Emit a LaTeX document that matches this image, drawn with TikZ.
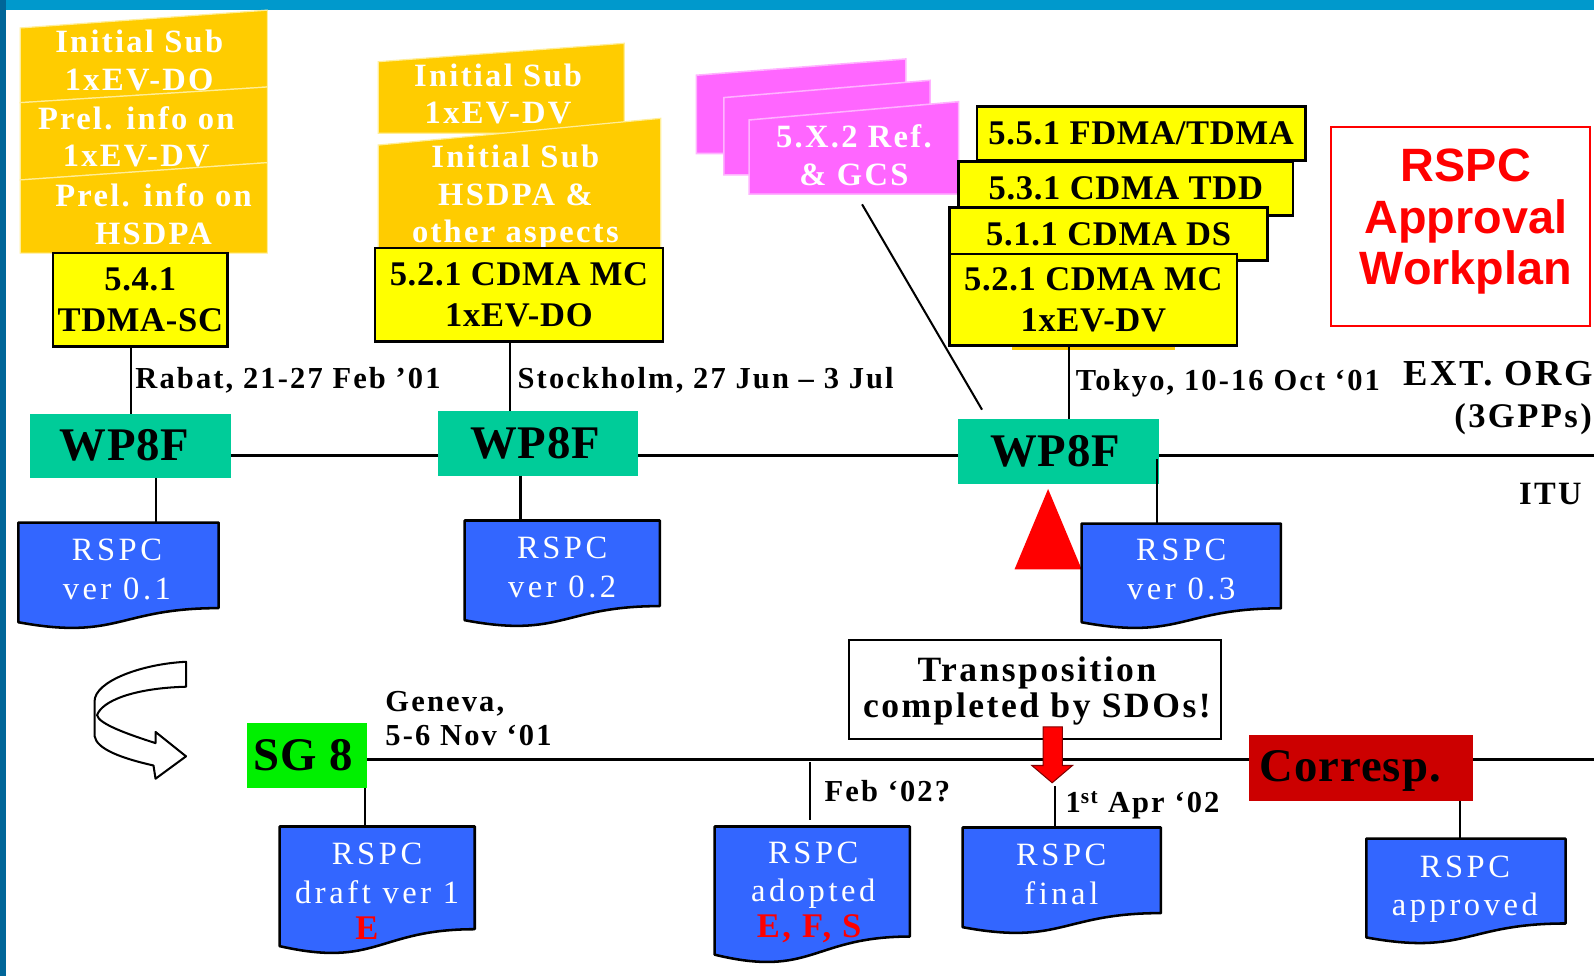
\documentclass[tikz,border=0pt]{standalone}
\usepackage{fontspec}
\setmainfont{Liberation Serif}
\newfontfamily\labf{Liberation Serif}[LetterSpace=7]
\newfontfamily\yelf{Liberation Serif}[LetterSpace=2]
\newfontfamily\rspf{Liberation Serif}[LetterSpace=11]
\newfontfamily\arf{Liberation Sans}
\usetikzlibrary{calc}
\definecolor{topbar}{HTML}{0099CC}
\definecolor{leftbar}{HTML}{006699}
\definecolor{gold}{HTML}{FFCC00}
\definecolor{goldline}{HTML}{FFEE99}
\definecolor{yel}{HTML}{FFFF00}
\definecolor{wpteal}{HTML}{00CC99}
\definecolor{docblue}{HTML}{3366FF}
\definecolor{pinkf}{HTML}{FF66FF}
\definecolor{pinkline}{HTML}{FFB3FF}
\definecolor{sggreen}{HTML}{00F000}
\definecolor{darkred}{HTML}{CC0000}
\tikzset{
 goldbox/.style={fill=gold, draw=goldline, line width=1.2pt},
 pinkbox/.style={fill=pinkf, draw=pinkline, line width=1.5pt},
 goldtext/.style={text=white, font=\labf\bfseries\fontsize{32}{37}\selectfont, align=center, inner sep=0},
 ybox/.style={fill=yel, draw=black, line width=2.5pt, inner sep=0, outer sep=0, align=center, font=\yelf\bfseries\fontsize{34}{40}\selectfont, anchor=north west},
 wpbox/.style={fill=wpteal, inner sep=0, outer sep=0, font=\yelf\bfseries\fontsize{46}{50}\selectfont, anchor=north west},
 docbox/.style={inner sep=0, outer sep=0, anchor=north west},
 docfill/.style={fill=docblue, draw=black, line width=2.5pt, line join=round},
 doctext/.style={text=white, font=\rspf\fontsize{32}{38}\selectfont, align=center, inner sep=0},
 redlet/.style={text=red, font=\labf\bfseries\fontsize{34}{38}\selectfont, inner sep=0},
 lab/.style={font=\labf\bfseries\fontsize{30}{34}\selectfont, inner sep=0, align=left},
 conn/.style={line width=2pt},
 tl/.style={line width=2.5pt},
}
\newcommand\docpath[1]{%
  \path[docfill] (#1.north west) -- (#1.north east) -- ($(#1.north east)!0.802!(#1.south east)$)
    .. controls ($(#1.north)!0.802!(#1.south)$) and ($(#1.north)!1.107!(#1.south)$) ..
    ($(#1.north west)!0.934!(#1.south west)$) -- cycle;}
\begin{document}
\begin{tikzpicture}[x=1pt,y=-1pt]
\useasboundingbox (0,0) rectangle (1568,960);
\fill[white] (0,0) rectangle (1568,960);
\fill[topbar] (0,0) rectangle (1568,10);
\fill[leftbar] (0,0) rectangle (6,960);

\coordinate (tlA) at (0,448);
\coordinate (tlB) at (0,747);
\coordinate (ituend) at (1568,448);
\coordinate (sgend) at (1568,747);

% orange stack 1
\draw[goldbox] (20,27.5) -- (263,10) -- (263,85.6) -- (20,101) -- cycle;
\node[goldtext] (oa) at (137,59.5) {Initial Sub\\1xEV-DO};
\draw[goldbox] (20,101) -- (263,85.6) -- (263,160) -- (20,177) -- cycle;
\node[goldtext] (ob) at (134,134.5) {Prel. info on\\1xEV-DV};
\draw[goldbox] (20,177) -- (263,160) -- (263,249) -- (20,249) -- cycle;
\node[goldtext] (oc) at (151,210.5) {Prel. info on\\HSDPA};
\node[ybox, minimum width=172pt, minimum height=92pt] (b541) at (52,249) {5.4.1\\TDMA-SC};

% orange stack 2
\draw[goldbox] (372,60.7) -- (614,42.6) -- (614,131) -- (372,131) -- cycle;
\node[goldtext] (od) at (490,92.5) {Initial Sub\\1xEV-DV};
\draw[goldbox] (372,142.7) -- (650,116.4) -- (650,244) -- (372,244) -- cycle;
\node[goldtext] (oe) at (507,194) {Initial Sub\\HSDPA \&\\other aspects};
\node[ybox, minimum width=283pt, minimum height=92pt] (b521) at (369,244) {5.2.1 CDMA MC\\1xEV-DO};

% pink stack
\draw[pinkbox] (685,74) -- (891,58) -- (891,151) -- (685,151) -- cycle;
\draw[pinkbox] (712,96) -- (915,79) -- (915,172) -- (712,172) -- cycle;
\draw[pinkbox] (737,118) -- (943,100) -- (943,191) -- (737,191) -- cycle;
\node[goldtext] (pk) at (840,152.5) {5.X.2 Ref.\\\& GCS};

% yellow stack
\node[ybox, minimum width=323pt, minimum height=53pt] (y1) at (961,105) {5.5.1 FDMA/TDMA};
\node[ybox, minimum width=329pt, minimum height=53pt] (y2) at (943,159) {5.3.1 CDMA TDD};
\node[ybox, minimum width=313pt, minimum height=52pt] (y3) at (934,204) {5.1.1 CDMA DS};
\fill[gold] (995,330) rectangle (1156,344);
\node[ybox, minimum width=283pt, minimum height=90pt] (y4) at (934,250) {5.2.1 CDMA MC\\1xEV-DV};

% approval box
\node[draw=red, line width=2pt, fill=white, minimum width=255pt, minimum height=196pt, anchor=north west, inner sep=0] (appr) at (1308,124) {};
\node[text=red, font=\arf\bfseries\fontsize{46}{50.5}\selectfont, align=center, inner sep=0] (apprt) at (1442,218) {RSPC\\Approval\\Workplan};

% WP8F boxes
\node[wpbox, minimum width=197pt, minimum height=63pt] (w1) at (30,407) {\hspace*{-12pt}WP8F};
\node[wpbox, minimum width=197pt, minimum height=64pt] (w2) at (431,404) {\hspace*{-6pt}WP8F};
\node[wpbox, minimum width=198pt, minimum height=64pt] (w3) at (942,412) {\hspace*{-6pt}WP8F};
\draw[tl] (w1.east |- tlA) -- (w2.west |- tlA);
\draw[tl] (w2.east |- tlA) -- (w3.west |- tlA);
\draw[tl] (w3.east |- tlA) -- (ituend);

% stems
\coordinate (s1) at (129,0);
\coordinate (s2) at (502,0);
\coordinate (s3) at (1052,0);
\coordinate (d1) at (153,0);
\coordinate (d2) at (512,0);
\coordinate (d3) at (1138,452);
\draw[conn] (b541.south -| s1) -- (w1.north -| s1);
\draw[conn] (b521.south -| s2) -- (w2.north -| s2);
\draw[conn] (y4.south -| s3) -- (w3.north -| s3);
\coordinate (pkl) at (848,201);
\coordinate (pkr) at (966,403);
\draw[conn] (pkl) -- (pkr);

% labels
\node[lab, anchor=base west] (lrabat) at (133,382) {Rabat, 21-27 Feb ’01};
\node[lab, anchor=base west] (lstock) at (509,382) {Stockholm, 27 Jun – 3 Jul};
\node[lab, anchor=base west] (ltokyo) at (1058,384) {Tokyo, 10-16 Oct ‘01};
\node[lab, anchor=base west, font=\labf\bfseries\fontsize{36}{38}\selectfont] (lext) at (1380,379) {EXT. ORG};
\node[lab, anchor=base east, font=\labf\bfseries\fontsize{34}{36}\selectfont] (l3g) at (1566,421) {(3GPPs)};
\node[lab, anchor=base east, font=\labf\bfseries\fontsize{32}{36}\selectfont] (litu) at (1556,496) {ITU};

% RSPC top row
\node[docbox, minimum width=197pt, minimum height=105pt] (r1) at (18,514) {};
\node[docbox, minimum width=192pt, minimum height=105pt] (r2) at (457,512) {};
\node[docbox, minimum width=196pt, minimum height=104pt] (r3) at (1064,515) {};
\draw[conn] (w1.south -| d1) -- (r1.north -| d1);
\draw[conn] (w2.south -| d2) -- (r2.north -| d2);
\draw[conn] (d3) -- (r3.north -| d3);
\docpath{r1}
\docpath{r2}
\fill[red] (1031,481) -- (1064,560) -- (998,560) -- cycle;
\docpath{r3}
\node[doctext] (r1t) at (115,560) {RSPC\\ver 0.1};
\node[doctext] (r2t) at (553,558) {RSPC\\ver 0.2};
\node[doctext] (r3t) at (1162,560) {RSPC\\ver 0.3};

% curved arrow
\draw[line width=2pt, fill=white, line join=round] (183,651) .. controls (140,653) and (93,670) .. (93,690) -- (93,724) .. controls (95,737) and (120,746) .. (151,753) -- (153,766) -- (183,744) -- (153,720) -- (153,731) .. controls (125,722) and (97,712) .. (95.5,703.5) .. controls (100,690) and (130,677) .. (183,675.5) -- cycle;

% lower timeline
\node[fill=sggreen, minimum width=118pt, minimum height=64pt, anchor=north west, inner sep=0, font=\yelf\bfseries\fontsize{46}{50}\selectfont] (sg) at (243,711) {\hspace*{-8pt}SG 8};
\draw[tl] (sg.east |- tlB) -- (sgend);
\node[lab, anchor=west] (lgen) at (379,707) {Geneva,\\5-6 Nov ‘01};

\node[fill=darkred, minimum width=221pt, minimum height=65pt, anchor=north west, inner sep=0] (corr) at (1228,723) {};
\node[anchor=base west, inner sep=0, font=\yelf\bfseries\fontsize{46}{50}\selectfont] (corrt) at (1239,769) {Corresp.};

\node[draw=black, line width=2pt, fill=white, minimum width=366pt, minimum height=97pt, anchor=north west, inner sep=0] (trans) at (834,629) {};
\node[align=center, inner sep=0, font=\labf\bfseries\fontsize{35}{35}\selectfont] (transt) at (1020,680) {Transposition\\completed by SDOs!};
\draw[fill=red, draw=red!50!black, line width=1pt] (1026,715) -- (1045,715) -- (1045,753) -- (1055,753) -- (1035,770) -- (1015,753) -- (1026,753) -- cycle;

\node[lab, anchor=base west] (lfeb) at (811,788) {Feb ‘02?};
\node[lab, anchor=base west] (lapr) at (1048,799) {1\textsuperscript{st} Apr ‘02};

% RSPC bottom row
\node[docbox, minimum width=192pt, minimum height=126pt] (r4) at (275,813) {};
\node[docbox, minimum width=192pt, minimum height=135pt] (r5) at (703,813) {};
\node[docbox, minimum width=195pt, minimum height=105pt] (r6) at (947,814) {};
\node[docbox, minimum width=196pt, minimum height=104pt] (r7) at (1344,825) {};
\coordinate (e4) at (359,0);
\coordinate (e5a) at (797,750);
\coordinate (e5b) at (797,807);
\coordinate (e6a) at (1038,773);
\coordinate (e7) at (1436,0);
\draw[conn] (sg.south -| e4) -- (r4.north -| e4);
\draw[conn] (e5a) -- (e5b);
\draw[conn] (e6a) -- (r6.north -| e6a);
\draw[conn] (corr.south -| e7) -- (r7.north -| e7);
\docpath{r4}
\docpath{r5}
\docpath{r6}
\docpath{r7}
\node[doctext] (r4t) at (371,859) {RSPC\\draft ver 1};
\node[redlet] (r4e) at (361,913) {E};
\node[doctext] (r5t) at (800,861) {RSPC\\adopted};
\node[redlet] (r5e) at (796,914) {E, F, S};
\node[doctext] (r6t) at (1044,860) {RSPC\\final};
\node[doctext] (r7t) at (1441,874.5) {RSPC\\approved};
\end{tikzpicture}
\end{document}
